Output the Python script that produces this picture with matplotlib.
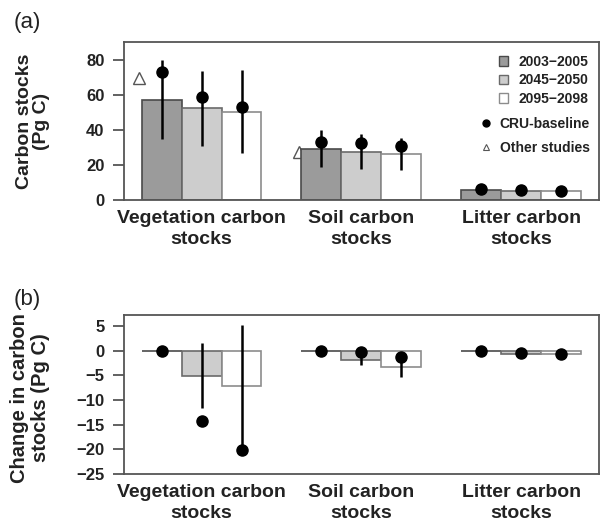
import numpy as np
import matplotlib
matplotlib.use("Agg")
import matplotlib.pyplot as plt
from matplotlib.patches import Patch
from matplotlib.lines import Line2D

plt.rcParams['font.family'] = ['Liberation Sans', 'DejaVu Sans']

# data
categories = ['Vegetation carbon\nstocks', 'Soil carbon\nstocks', 'Litter carbon\nstocks']
periods = ['2003\u22122005', '2045\u22122050', '2095\u22122098']

# (a) carbon stocks, Pg C
stock = {
    '2003': [57.1, 29.3, 5.6],
    '2045': [52.2, 27.6, 4.9],
    '2095': [50.3, 26.3, 4.9],
}
stock_err = {
    '2003': [22.6, 10.6, 0.5],
    '2045': [21.4, 9.9, 0.5],
    '2095': [23.5, 9.3, 0.5],
}
cru_stock = {
    '2003': [73.0, 32.8, 6.1],
    '2045': [58.9, 32.6, 5.7],
    '2095': [52.8, 31.0, 5.3],
}
other_studies = [69.5, 27.6]   # vegetation, soil

# (b) change in carbon stocks, Pg C
change = {
    '2003': [0.0, 0.0, 0.0],
    '2045': [-5.1, -1.9, -0.6],
    '2095': [-7.2, -3.4, -0.7],
}
change_err = {
    '2003': [0.0, 0.0, 0.0],
    '2045': [6.6, 1.1, 0.3],
    '2095': [12.4, 1.9, 0.3],
}
cru_change = {
    '2003': [0.0, 0.0, 0.0],
    '2045': [-14.2, -0.2, -0.4],
    '2095': [-20.1, -1.4, -0.8],
}

keys = ['2003', '2045', '2095']
fills = ['#9b9b9b', '#cdcdcd', '#ffffff']
edges = ['#4a4a4a', '#6a6a6a', '#8c8c8c']
axcol = '#555555'
txtcol = '#222222'

# R barplot style layout: groups of 3 bars, one bar gap between groups
group_left = np.arange(len(categories)) * 4 + 1
group_mid = group_left + 1.5


def draw_panel(ax, vals, errs, cru, ylim, yticks):
    for j, k in enumerate(keys):
        xs = group_left + j + 0.5
        ax.bar(xs, vals[k], width=1.0, color=fills[j], edgecolor=edges[j],
               linewidth=1.2, zorder=2)
        lo = np.array(vals[k]) - np.array(errs[k])
        hi = np.array(vals[k]) + np.array(errs[k])
        ax.vlines(xs, lo, hi, color='black', linewidth=1.8, zorder=3)
        ax.plot(xs, cru[k], 'o', color='black', markersize=8, zorder=4)
    ax.set_xlim(0.56, 12.44)
    ax.set_ylim(*ylim)
    ax.set_yticks(yticks)
    ax.set_yticklabels([f'{t:g}'.replace('-', '\u2212') for t in yticks],
                       fontsize=12, fontweight='bold', color=txtcol)
    ax.set_xticks(group_mid)
    ax.set_xticklabels(categories, fontsize=14, fontweight='bold', color=txtcol,
                       linespacing=1.35)
    ax.tick_params(axis='x', length=0, pad=7)
    ax.tick_params(axis='y', length=8, width=1.3, color=axcol, pad=6)
    for s in ax.spines.values():
        s.set_color(axcol)
        s.set_linewidth(1.3)


fig = plt.figure(figsize=(6.0, 5.24), dpi=100)
ax1 = fig.add_axes([0.2067, 0.6183, 0.7913, 0.3015])
ax2 = fig.add_axes([0.2067, 0.0954, 0.7913, 0.3035])

draw_panel(ax1, stock, stock_err, cru_stock, (0, 90), [0, 20, 40, 60, 80])
ax1.plot(group_left[:2] - 0.06, other_studies, '^', markersize=8,
         markerfacecolor='white', markeredgecolor='#555555', markeredgewidth=1.0,
         zorder=1.5)
ax1.set_ylabel('Carbon stocks\n(Pg C)', fontsize=14, fontweight='bold',
               color=txtcol, linespacing=1.0)
ax1.yaxis.set_label_coords(-0.156, 0.5)

draw_panel(ax2, change, change_err, cru_change, (-25, 7.2),
           [5, 0, -5, -10, -15, -20, -25])
ax2.set_ylabel('Change in carbon\nstocks (Pg C)', fontsize=14.5, fontweight='bold',
               color=txtcol, linespacing=1.1)
ax2.yaxis.set_label_coords(-0.156, 0.48)

# legends
h1 = [Patch(facecolor=fills[j], edgecolor=edges[j], linewidth=1.0) for j in range(3)]
leg1 = ax1.legend(h1, periods, loc='upper right', bbox_to_anchor=(0.977, 0.919),
                  frameon=False, borderpad=0, borderaxespad=0,
                  handlelength=0.65, handleheight=0.65, handletextpad=0.72,
                  labelspacing=0.33, prop={'size': 10, 'weight': 'bold'})
for t in leg1.get_texts():
    t.set_color(txtcol)
ax1.add_artist(leg1)
h2 = [Line2D([], [], marker='o', color='black', linestyle='none', markersize=5),
      Line2D([], [], marker='^', linestyle='none', markersize=5,
             markerfacecolor='white', markeredgecolor='#555555', markeredgewidth=0.8)]
leg2 = ax1.legend(h2, ['CRU-baseline', 'Other studies'], loc='upper right',
                  bbox_to_anchor=(0.981, 0.525), frameon=False, borderpad=0,
                  borderaxespad=0, handlelength=0.8, handletextpad=0.54,
                  labelspacing=0.7, prop={'size': 10, 'weight': 'bold'})
for t in leg2.get_texts():
    t.set_color(txtcol)

fig.text(0.022, 0.958, '(a)', fontsize=16, color=txtcol, va='center')
fig.text(0.022, 0.429, '(b)', fontsize=16, color=txtcol, va='center')

fig.savefig('out.png', dpi=100)
